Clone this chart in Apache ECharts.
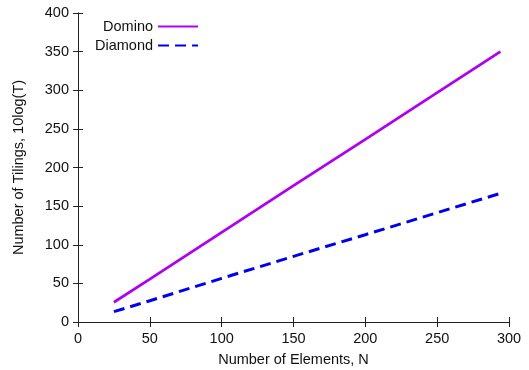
<!DOCTYPE html>
<html>
<head>
<meta charset="utf-8">
<script src="https://cdn.jsdelivr.net/npm/echarts@6/dist/echarts.min.js"></script>
<style>html,body{margin:0;padding:0;background:#fff;}#c{width:529px;height:370px;}</style>
</head>
<body>
<div id="c"></div>
<script>
var xTicks = [0, 50, 100, 150, 200, 250, 300];
var yTicks = [0, 50, 100, 150, 200, 250, 300, 350, 400];
var dominoN = [25, 50, 100, 150, 200, 250, 294];
var dominoT = [25.5, 55.5, 116, 176.5, 236.5, 297, 350];
var diamondN = [25, 50, 100, 150, 200, 250, 294];
var diamondT = [13.4, 27.5, 56.5, 85, 113, 141.5, 166.5];

function pairs(xs, ys) { return xs.map(function (x, i) { return [x, ys[i]]; }); }

var font = 'Liberation Sans, Arial, sans-serif';
var fs = 14.5;
var chart = echarts.init(document.getElementById('c'));
var axCommon = {
  min: 0,
  interval: 50,
  axisLine: { show: true, lineStyle: { color: '#222', width: 1 } },
  axisTick: { show: true, inside: true, length: 5, lineStyle: { color: '#222' } },
  splitLine: { show: false }
};
chart.setOption({
  animation: false,
  backgroundColor: '#fff',
  grid: { left: 78, right: 20, top: 13, bottom: 48, containLabel: false, outerBoundsMode: 'none' },
  legend: {
    orient: 'vertical',
    left: 90,
    top: 14,
    align: 'right',
    itemWidth: 40,
    itemHeight: 14,
    itemGap: 4,
    itemStyle: { opacity: 0 },
    textStyle: { fontFamily: font, fontSize: fs, color: '#111' },
    data: ['Domino', 'Diamond']
  },
  xAxis: [
    Object.assign({}, axCommon, {
      type: 'value', max: 300, position: 'bottom',
      name: 'Number of Elements, N', nameLocation: 'middle', nameGap: 30,
      nameTextStyle: { fontFamily: font, fontSize: fs, color: '#111' },
      axisLabel: { fontFamily: font, fontSize: fs, color: '#111', margin: 9 }
    }),
    Object.assign({}, axCommon, {
      type: 'value', max: 300, position: 'top',
      axisLabel: { show: false }
    })
  ],
  yAxis: [
    Object.assign({}, axCommon, {
      type: 'value', max: 400, position: 'left',
      name: 'Number of Tilings, 10log(T)', nameLocation: 'middle', nameGap: 52,
      nameTextStyle: { fontFamily: font, fontSize: fs, color: '#111' },
      axisLabel: { fontFamily: font, fontSize: fs, color: '#111', margin: 9 }
    }),
    Object.assign({}, axCommon, {
      type: 'value', max: 400, position: 'right',
      axisLabel: { show: false }
    })
  ],
  series: [
    {
      name: 'Domino', type: 'line', symbol: 'none',
      data: pairs(dominoN, dominoT),
      lineStyle: { color: '#b000f0', width: 2.8 },
      itemStyle: { color: '#b000f0' }
    },
    {
      name: 'Diamond', type: 'line', symbol: 'none',
      data: pairs(diamondN, diamondT),
      lineStyle: { color: '#0000f0', width: 3, type: [11, 6] },
      itemStyle: { color: '#0000f0' }
    }
  ]
});
</script>
</body>
</html>
